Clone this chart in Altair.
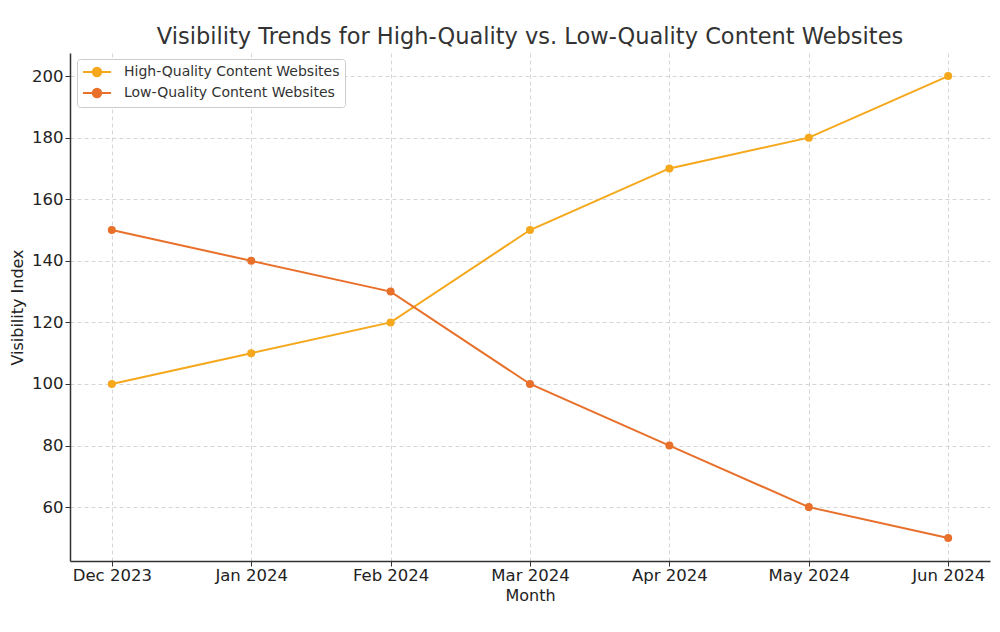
import altair as alt
import pandas as pd

months = ["Dec 2023", "Jan 2024", "Feb 2024", "Mar 2024", "Apr 2024", "May 2024", "Jun 2024"]
high_quality = [100, 110, 120, 150, 170, 180, 200]
low_quality = [150, 140, 130, 100, 80, 60, 50]
series_names = ["High-Quality Content Websites", "Low-Quality Content Websites"]
series_colors = ["#f5a81c", "#e8702a"]
y_ticks = [60, 80, 100, 120, 140, 160, 180, 200]

rows = []
for m, v in zip(months, high_quality):
    rows.append({"Month": m, "Value": v, "Series": series_names[0]})
for m, v in zip(months, low_quality):
    rows.append({"Month": m, "Value": v, "Series": series_names[1]})
df = pd.DataFrame(rows)

font = "DejaVu Sans"
# line from 0 to 28 px with a dot in the middle (unit = 7 px at symbolSize 196)
legend_symbol = "M-1,0L3,0M1.6,0A0.6,0.6,0,1,1,0.4,0A0.6,0.6,0,1,1,1.6,0Z"

x = alt.X("Month:N", sort=months, title="Month",
          scale=alt.Scale(type="point", padding=0.3),
          axis=alt.Axis(labelAngle=0))
y = alt.Y("Value:Q", title="Visibility Index",
          scale=alt.Scale(domain=[42.5, 207.5], nice=False, zero=False),
          axis=alt.Axis(values=y_ticks))
color = alt.Color("Series:N",
                  scale=alt.Scale(domain=series_names, range=series_colors),
                  legend=alt.Legend(title=None, orient="none", legendX=7, legendY=6,
                                    symbolType=legend_symbol, symbolSize=196,
                                    symbolStrokeWidth=2,
                                    labelFontSize=14, labelColor="#333333", labelFont=font,
                                    labelLimit=0, labelOffset=26,
                                    rowPadding=3, padding=5, strokeColor="#cccccc",
                                    fillColor="white", cornerRadius=3))

base = alt.Chart(df).encode(x=x, y=y, color=color)
lines = base.mark_line(strokeWidth=2)
points = base.mark_point(filled=True, size=64, opacity=1)

chart = (lines + points).properties(
    width=920, height=508,
    title=alt.TitleParams("Visibility Trends for High-Quality vs. Low-Quality Content Websites",
                          fontSize=22.5, font=font, color="#333333", fontWeight="normal",
                          anchor="middle", offset=5),
    autosize=alt.AutoSizeParams(type="none"),
    padding={"left": 62, "top": 45, "right": 2, "bottom": 63},
).configure_view(stroke=None).configure_axis(
    labelFont=font, titleFont=font, labelFontSize=16.5, titleFontSize=16,
    labelColor="#222222", titleColor="#222222", titleFontWeight="normal",
    grid=True, gridColor="#cccccc", gridDash=[4, 3], gridWidth=0.8,
    domainColor="#333333", domainWidth=1.5, tickColor="#333333", tickSize=5,
    labelPadding=2,
).configure_axisX(titlePadding=4, labelPadding=1).configure_axisY(titlePadding=6)

chart.save("out.html", embed_options={"renderer": "svg", "actions": False})
